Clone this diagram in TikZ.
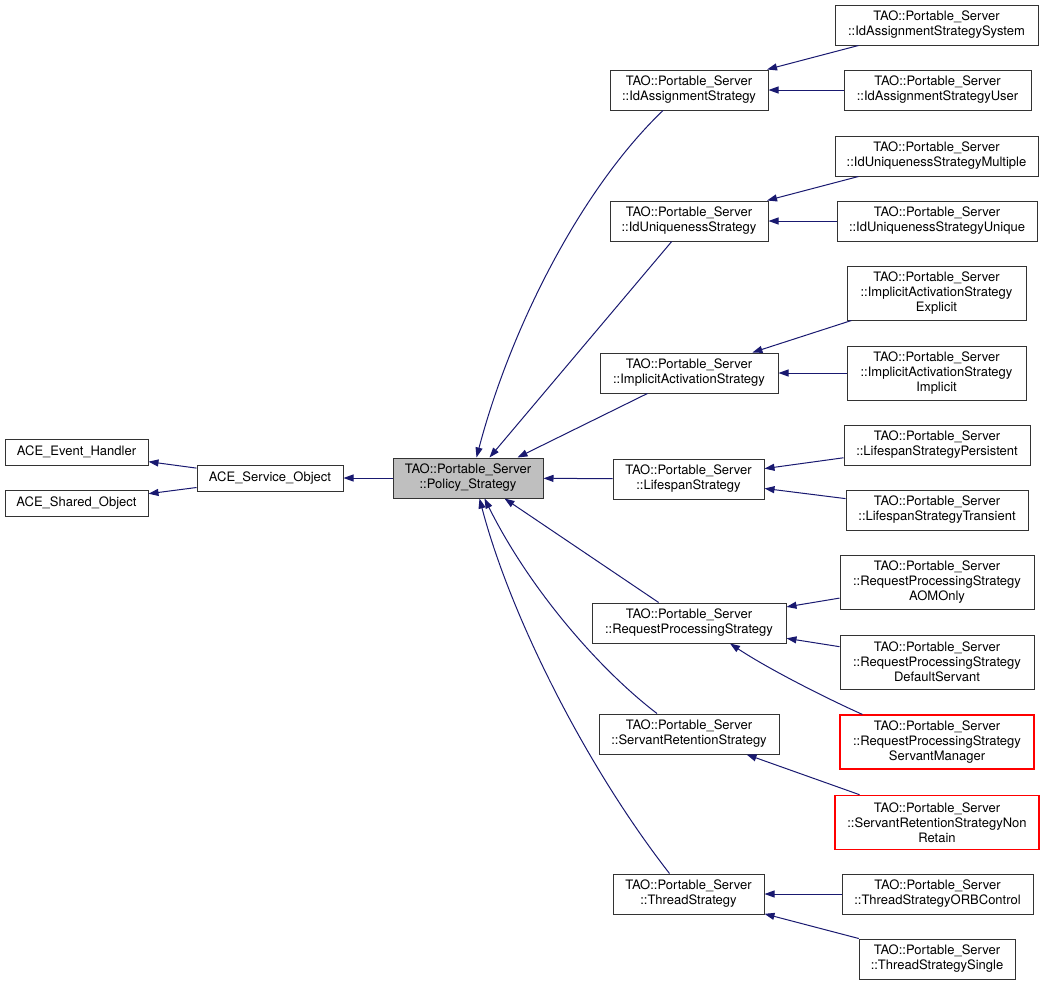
\documentclass[tikz,border=0pt]{standalone}
\usepackage{fontspec}
\setmainfont{TeX Gyre Heros}
\usetikzlibrary{arrows.meta,calc}
\definecolor{edgeblue}{HTML}{191970}
\definecolor{boxgray}{HTML}{BFBFBF}
\definecolor{boxred}{HTML}{FF0000}
\tikzset{
  box/.style={draw=black!80, line width=1pt, fill=white, inner sep=0pt, align=center,
    font=\fontsize{13}{15}\selectfont},
  redbox/.style={box, draw=boxred, line width=1.2pt},
  graybox/.style={box, fill=boxgray},
  edge/.style={draw=edgeblue, line width=1pt, -{Triangle[length=10pt,width=7pt,fill=edgeblue]}},
}
\begin{document}
\begin{tikzpicture}[x=1pt,y=-1pt]
\useasboundingbox (0,0) rectangle (1045,985);
% left column
\node[box, minimum width=143, minimum height=26] (eh) at (76.5,452) {ACE\_Event\_Handler};
\node[box, minimum width=143, minimum height=26] (so) at (76.5,503) {ACE\_Shared\_Object};
\node[box, minimum width=146, minimum height=26] (svc) at (270,478) {ACE\_Service\_Object};
\node[graybox, minimum width=150, minimum height=40] (pol) at (468,478) {TAO::Portable\_Server\\::Policy\_Strategy};
% middle column
\node[box, minimum width=158, minimum height=40] (ida) at (689,90) {TAO::Portable\_Server\\::IdAssignmentStrategy};
\node[box, minimum width=158, minimum height=40] (idu) at (689,221) {TAO::Portable\_Server\\::IdUniquenessStrategy};
\node[box, minimum width=178, minimum height=40] (ias) at (689,373) {TAO::Portable\_Server\\::ImplicitActivationStrategy};
\node[box, minimum width=151, minimum height=40] (lss) at (688.5,479) {TAO::Portable\_Server\\::LifespanStrategy};
\node[box, minimum width=194, minimum height=40] (rps) at (689,623) {TAO::Portable\_Server\\::RequestProcessingStrategy};
\node[box, minimum width=180, minimum height=40] (srs) at (689,734) {TAO::Portable\_Server\\::ServantRetentionStrategy};
\node[box, minimum width=151, minimum height=40] (ts) at (688.5,894) {TAO::Portable\_Server\\::ThreadStrategy};
% right column
\node[box, minimum width=203, minimum height=40] (sys) at (936.5,25) {TAO::Portable\_Server\\::IdAssignmentStrategySystem};
\node[box, minimum width=187, minimum height=40] (usr) at (937.5,90) {TAO::Portable\_Server\\::IdAssignmentStrategyUser};
\node[box, minimum width=203, minimum height=40] (mul) at (936.5,156) {TAO::Portable\_Server\\::IdUniquenessStrategyMultiple};
\node[box, minimum width=200, minimum height=40] (uni) at (937,221) {TAO::Portable\_Server\\::IdUniquenessStrategyUnique};
\node[box, minimum width=179, minimum height=54] (exp) at (936.5,293) {TAO::Portable\_Server\\::ImplicitActivationStrategy\\Explicit};
\node[box, minimum width=179, minimum height=54] (imp) at (936.5,373) {TAO::Portable\_Server\\::ImplicitActivationStrategy\\Implicit};
\node[box, minimum width=186, minimum height=40] (per) at (937,445) {TAO::Portable\_Server\\::LifespanStrategyPersistent};
\node[box, minimum width=182, minimum height=40] (tra) at (937,510) {TAO::Portable\_Server\\::LifespanStrategyTransient};
\node[box, minimum width=194, minimum height=54] (aom) at (937,582) {TAO::Portable\_Server\\::RequestProcessingStrategy\\AOMOnly};
\node[box, minimum width=194, minimum height=54] (dfs) at (937,662) {TAO::Portable\_Server\\::RequestProcessingStrategy\\DefaultServant};
\node[redbox, minimum width=194, minimum height=54] (sm) at (937,742) {TAO::Portable\_Server\\::RequestProcessingStrategy\\ServantManager};
\node[redbox, minimum width=204, minimum height=54] (nr) at (937,822.3) {TAO::Portable\_Server\\::ServantRetentionStrategyNon\\Retain};
\node[box, minimum width=191, minimum height=40] (orb) at (937.5,894) {TAO::Portable\_Server\\::ThreadStrategyORBControl};
\node[box, minimum width=156, minimum height=40] (sgl) at (937,959) {TAO::Portable\_Server\\::ThreadStrategySingle};
% left edges
\draw[edge] (svc) -- (eh);
\draw[edge] (svc) -- (so);
\draw[edge] (pol) -- (svc);
% middle -> policy
\draw[edge] ($(ida.south)+(-26,0)$) .. controls (580,190) and (510,330) .. ($(pol.north west)+(84,0)$);
\draw[edge] (idu) -- ($(pol.north west)+(97,0)$);
\draw[edge] (ias) -- ($(pol.north west)+(125,0)$);
\draw[edge] (lss) -- (pol);
\draw[edge] (rps) -- ($(pol.south west)+(112,0)$);
\draw[edge] ($(srs.north)+(-32,0)$) .. controls (600,670) and (530,590) .. ($(pol.south west)+(92,0)$);
\draw[edge] ($(ts.north)+(-19,0)$) .. controls (585,765) and (510,615) .. ($(pol.south west)+(87,0)$);
% right -> middle
\draw[edge] (sys) -- (ida);
\draw[edge] (usr) -- (ida);
\draw[edge] (mul) -- (idu);
\draw[edge] (uni) -- (idu);
\draw[edge] (exp) -- (ias);
\draw[edge] (imp) -- (ias);
\draw[edge] (per) -- (lss);
\draw[edge] (tra) -- (lss);
\draw[edge] (aom) -- (rps);
\draw[edge] (dfs) -- (rps);
\draw[edge] ($(sm.north west)+(23,0)$) .. controls (830,700) and (770,670) .. ($(rps.south)+(41,0)$);
\draw[edge] (nr) -- (srs);
\draw[edge] (orb) -- (ts);
\draw[edge] (sgl) -- (ts);
\end{tikzpicture}
\end{document}
